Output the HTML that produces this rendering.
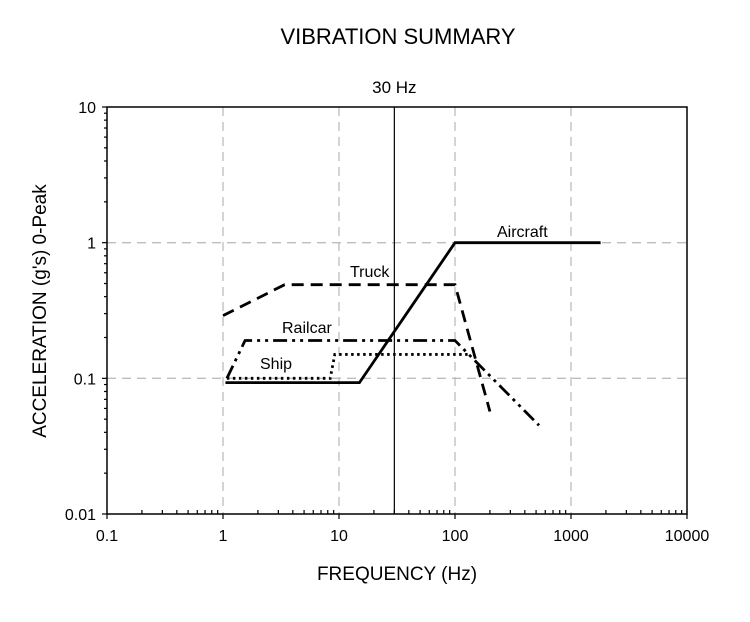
<!DOCTYPE html>
<html><head><meta charset="utf-8"><style>
html,body{margin:0;padding:0;background:#fff;}
svg{display:block;font-family:"Liberation Sans",Arial,sans-serif;}
</style></head><body>
<svg id="chart" width="750" height="622" viewBox="0 0 750 622" xmlns="http://www.w3.org/2000/svg">
<text x="398" y="44" font-size="22" text-anchor="middle">VIBRATION SUMMARY</text>
<text x="397" y="580" font-size="19" text-anchor="middle">FREQUENCY (Hz)</text>
<text transform="translate(46,311) rotate(-90)" font-size="19" text-anchor="middle">ACCELERATION (g's) 0-Peak</text>
<g id="grid"></g><g id="axes"></g><g id="series"></g>
</svg>
<script>
const xTicks = [0.1, 1, 10, 100, 1000, 10000];
const xTickLabels = ["0.1", "1", "10", "100", "1000", "10000"];
const yTicks = [0.01, 0.1, 1, 10];
const yTickLabels = ["0.01", "0.1", "1", "10"];
const aircraftX = [1.05, 15, 100, 1800];
const aircraftY = [0.093, 0.093, 1.0, 1.0];
const truckX = [1, 3.4, 100, 200];
const truckY = [0.29, 0.49, 0.49, 0.057];
const railcarX = [1.08, 1.55, 100, 530];
const railcarY = [0.1, 0.19, 0.19, 0.045];
const shipX = [1.08, 8.4, 9.2, 135];
const shipY = [0.1, 0.1, 0.15, 0.15];
const markerFreq = [30];

const L=107,R=687,T=107,B=514;
const NS="http://www.w3.org/2000/svg";
function xs(v){return L+(Math.log10(v)+1)/5*(R-L);}
function ys(v){return B-(Math.log10(v)+2)/3*(B-T);}
function mk(tag,attrs,parent){const e=document.createElementNS(NS,tag);for(const k in attrs)e.setAttribute(k,attrs[k]);parent.appendChild(e);return e;}
const grid=document.getElementById('grid'),axes=document.getElementById('axes'),ser=document.getElementById('series');

xTicks.forEach((t,i)=>{
  const x=xs(t);
  if(i>0&&i<xTicks.length-1){
    const g=mk('line',{x1:x,x2:x,y1:T,y2:B,stroke:'#bdbdbd','stroke-width':1.3,'stroke-dasharray':'9,6'},grid);
    
    
  }
  const lb=mk('text',{x:x,y:B+27,'font-size':16,'text-anchor':'middle'},axes);
  lb.textContent=xTickLabels[i];
  
  
  if(i<xTicks.length-1){for(let m=2;m<10;m++){const mx=xs(t*m);mk('line',{x1:mx,x2:mx,y1:B,y2:B-4,stroke:'#000','stroke-width':1.2},axes);}}
  mk('line',{x1:x,x2:x,y1:B,y2:B+5,stroke:'#000','stroke-width':1.2},axes);
});
yTicks.forEach((t,i)=>{
  const y=ys(t);
  if(i>0&&i<yTicks.length-1){
    const g=mk('line',{x1:L,x2:R,y1:y,y2:y,stroke:'#bdbdbd','stroke-width':1.3,'stroke-dasharray':'9,6'},grid);
    
    
  }
  const lb=mk('text',{x:L-11,y:y+6,'font-size':16,'text-anchor':'end'},axes);
  lb.textContent=yTickLabels[i];
  
  
  if(i<yTicks.length-1){for(let m=2;m<10;m++){const my=ys(t*m);mk('line',{x1:L,x2:L-3,y1:my,y2:my,stroke:'#000','stroke-width':1.2},axes);}}
  mk('line',{x1:L,x2:L-5,y1:y,y2:y,stroke:'#000','stroke-width':1.2},axes);
});
const frame=mk('rect',{x:L,y:T,width:R-L,height:B-T,fill:'none',stroke:'#000','stroke-width':1.5},axes);



markerFreq.forEach(f=>{
  const ln=mk('line',{x1:xs(f),x2:xs(f),y1:T,y2:B,stroke:'#000','stroke-width':1.2},ser);
  
  
  const lb=mk('text',{x:xs(f),y:93,'font-size':17,'text-anchor':'middle'},ser);
  lb.textContent=f+' Hz';
  
  
});

function series(X,Y,dash,name,label,lx,ly){
  const d=X.map((v,i)=>xs(v)+','+ys(Y[i])).join(' ');
  const p=mk('polyline',{points:d,fill:'none',stroke:'#000','stroke-width':2.8,'stroke-dasharray':dash,'stroke-linejoin':'miter'},ser);
  
  
  const t=mk('text',{x:lx,y:ly,'font-size':16},ser);
  t.textContent=label;
  
  
}
series(aircraftX,aircraftY,'none','aircraft-line','Aircraft',497,237);
series(truckX,truckY,'12,7','truck-line','Truck',350,277);
series(railcarX,railcarY,'14,5,3,5,3,5','railcar-line','Railcar',282,333);
series(shipX,shipY,'2.5,3.5','ship-line','Ship',260,369);
</script>
</body></html>
